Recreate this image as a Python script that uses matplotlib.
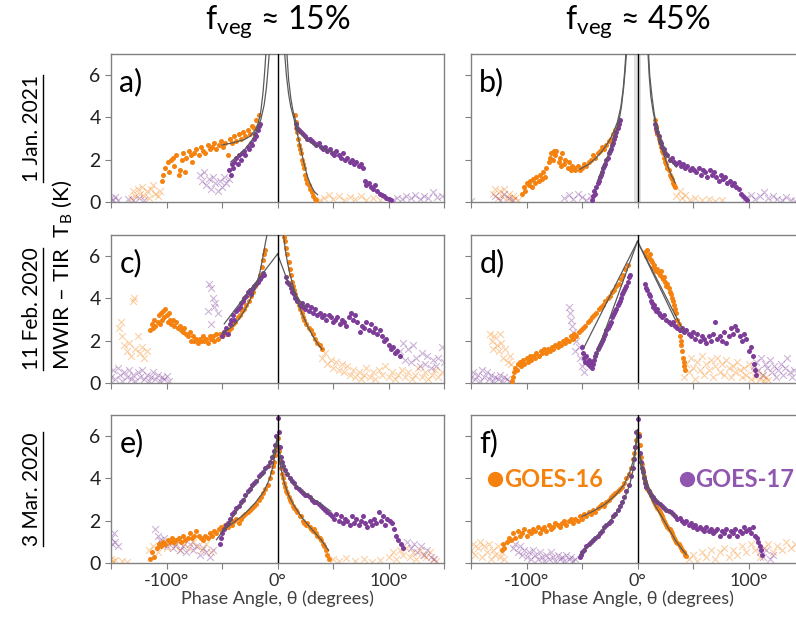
import matplotlib
matplotlib.use("Agg")
import matplotlib.pyplot as plt
from matplotlib.lines import Line2D
from matplotlib.ticker import FixedLocator, FixedFormatter

plt.rcParams['font.family'] = ['Lato', 'DejaVu Sans']
plt.rcParams['mathtext.fontset'] = 'custom'
plt.rcParams['mathtext.rm'] = 'Lato'
plt.rcParams['mathtext.it'] = 'Lato:italic'

ORANGE = '#f5820f'
PURPLE = '#7d3c98'
PURPLE_TXT = '#9157b0'

# ---- data: (phase angle in degrees, MWIR-TIR brightness temperature in K) ----
A_G16_DOT = [(-104,1.0),(-103,1.3),(-101,1.6),(-99,1.9),(-98,1.4),(-96,2.0),(-94,2.1),(-93,1.7),(-91,2.2),(-89,1.3),(-88,1.5),(-86,2.0),(-85,2.3),(-83,1.4),(-82,2.1),(-80,2.4),(-78,2.2),(-77,1.9),(-75,2.3),(-73,2.5),(-71,2.2),(-69,2.6),(-67,2.4),(-65,2.3),(-63,2.7),(-61,2.5),(-59,2.6),(-57,2.8),(-55,2.5),(-53,2.7),(-51,2.9),(-49,2.6),(-47,2.8),(-45,2.2),(-43,3.0),(-41,2.8),(-39,3.1),(-37,2.9),(-35,3.2),(-33,3.0),(-31,3.3),(-29,3.1),(-27,3.4),(-25,3.2),(-23,3.6),(-21,3.5),(-19,3.9),(-17,4.1),
             (16,4.1),(16.5,3.8),(17,3.5),(18,3.3),(18.5,3.0),(19,2.7),(20,2.5),(21,2.3),(22,2.0),(23,1.8),(24,1.6),(25,1.3),(26,1.1),(27,0.9),(28,0.8),(29,0.6),(31,0.45),(32,0.3),(34,0.15),(35,0.1)]
A_G17_DOT = [(-44,1.5),(-42,1.3),(-41,1.8),(-40,1.6),(-39,1.9),(-37,2.1),(-36,1.8),(-35,2.2),(-33,2.0),(-32,2.3),(-30,2.4),(-29,2.2),(-27,2.6),(-26,2.5),(-24,2.8),(-23,2.7),(-21,3.0),(-20,3.2),(-19,3.1),(-18,3.4),(-17,3.6),(-16,3.7),
             (17,3.7),(18,3.5),(19,3.4),(21,3.3),(23,3.2),(25,3.1),(27,3.0),(29,3.0),(31,2.9),(33,2.8),(35,2.7),(37,2.8),(39,2.6),(41,2.5),(43,2.6),(45,2.4),(47,2.5),(49,2.3),(51,2.2),(53,2.4),(55,2.2),(57,2.1),(59,2.3),(61,2.0),(63,2.1),(65,1.9),(67,2.0),(69,1.8),(71,1.9),(73,1.7),(75,1.8),(77,1.6),(79,1.0),(80,0.8),(82,0.9),(84,0.7),(86,0.6),(88,0.8),(90,0.5),(92,0.4),(94,0.35),(96,0.3),(98,0.2),(100,0.15),(102,0.1)]
A_G16_X = [(-132,0.2),(-130,0.5),(-128,0.3),(-126,0.6),(-124,0.4),(-122,0.7),(-120,0.3),(-118,0.5),(-116,0.2),(-114,0.6),(-112,0.8),(-110,0.4),(-108,0.3),(-106,0.5),
           (38,0.1),(42,0.2),(46,0.35),(50,0.15),(55,0.3),(60,0.1),(65,0.25),(70,0.15),(75,0.3),(80,0.1),(86,0.2),(92,0.1)]
A_G17_X = [(-150,0.2),(-148,0.1),(-146,0.25),(-144,0.1),(-135,0.15),(-130,0.1),(-125,0.2),(-120,0.1),(-70,1.3),(-68,1.0),(-66,1.4),(-64,0.8),(-62,1.1),(-60,0.6),(-58,1.2),(-56,0.9),(-54,0.5),(-52,1.0),(-50,0.7),(-48,1.2),(-46,0.9),(-44,1.1),
           (104,0.1),(108,0.2),(112,0.15),(116,0.3),(120,0.2),(124,0.35),(128,0.15),(132,0.3),(136,0.2),(140,0.45),(144,0.25),(148,0.3)]
A_FIT = [[(-50,2.7),(-40,2.8),(-30,2.95),(-25,3.1),(-20,3.4),(-17,3.8),(-15,4.3),(-13,5.2),(-11.5,6.2),(-10.5,7.0)],
         [(-42,1.9),(-30,2.45),(-22,3.0),(-18,3.5),(-15,3.9),(-12,4.6),(-10,5.4),(-8.5,6.3),(-7.5,7.0)],
         [(6.5,7.0),(8,6.0),(10,5.1),(12,4.5),(15,3.9),(18,3.2),(21,2.5),(24,1.8),(27,1.2),(30,0.8),(33,0.5),(36,0.35)],
         [(8.5,7.0),(10,5.8),(12,4.9),(14,4.3),(17,3.7),(20,3.35),(25,3.0),(30,2.8),(40,2.55),(50,2.35)]]

B_G16_DOT = [(-104,0.4),(-102,0.7),(-101,0.5),(-100,0.9),(-98,0.8),(-97,1.0),(-95,0.7),(-94,1.1),(-92,0.9),(-91,1.2),(-89,1.0),(-88,1.3),(-86,1.1),(-85,1.4),(-83,1.2),(-82,1.6),(-80,1.9),(-79,2.1),(-78,2.3),(-76,2.0),(-75,2.4),(-74,2.2),(-73,2.4),(-71,1.9),(-70,2.1),(-69,1.7),(-68,2.3),(-66,1.8),(-65,2.0),(-63,1.6),(-62,1.9),(-60,1.5),(-59,1.7),(-57,1.6),(-56,1.5),(-54,1.7),(-52,1.5),(-50,1.6),(-48,1.8),(-46,1.7),(-44,1.9),(-42,2.0),(-40,2.2),(-38,2.1),(-36,2.3),(-34,2.4),(-32,2.6),(-30,2.5),(-28,2.7),(-26,2.9),(-24,3.0),(-22,3.2),(-20,3.4),(-18,3.6),(-17,3.8),
             (16,3.9),(16.5,3.6),(17,3.4),(18,3.2),(19,3.0),(20,2.8),(21,2.6),(22,2.4),(23,2.3),(24,2.1),(25,1.9),(26,1.8),(27,1.6),(28,1.5),(29,1.3),(30,1.2),(31,1.1),(32,0.9),(33,0.8),(34,0.7)]
B_G17_DOT = [(-41,0.1),(-40,0.3),(-39,0.5),(-38,0.4),(-37,0.7),(-36,0.9),(-35,1.0),(-34,1.2),(-33,1.3),(-32,1.4),(-31,1.6),(-30,1.7),(-29,1.8),(-28,2.0),(-27,2.1),(-26,2.3),(-25,2.4),(-24,2.5),(-23,2.7),(-22,2.8),(-21,3.0),(-20,3.1),(-19,3.3),(-18,3.5),(-17,3.7),(-16,3.9),
             (16,3.7),(17,3.5),(18,3.3),(19,3.1),(20,2.9),(21,2.8),(22,2.6),(24,2.5),(25,2.3),(27,2.2),(29,2.0),(31,2.1),(33,1.9),(35,1.8),(37,1.9),(39,1.7),(41,1.8),(43,1.6),(45,1.7),(47,1.5),(49,1.6),(51,1.5),(53,1.4),(55,1.6),(57,1.3),(59,1.5),(61,1.4),(63,1.2),(65,1.5),(67,1.3),(69,1.4),(71,1.2),(73,1.0),(75,1.3),(77,1.1),(79,1.2),(81,0.9),(83,1.0),(85,0.8),(87,0.9),(89,0.7),(91,0.6),(93,0.4),(95,0.3),(97,0.2),(99,0.1)]
B_G16_X = [(-130,0.4),(-128,0.6),(-126,0.2),(-124,0.5),(-122,0.3),(-120,0.6),(-118,0.2),(-116,0.4),(-114,0.1),(-112,0.3),(-110,0.2),(-108,0.1),
           (35,0.3),(38,0.5),(40,0.2),(43,0.35),(47,0.1),(52,0.2),(58,0.1),(64,0.15),(70,0.05),(76,0.1)]
B_G17_X = [(-150,0.05),(-128,0.3),(-124,0.1),(-120,0.4),(-116,0.2),(-112,0.1),(-66,0.2),(-62,0.35),(-58,0.15),(-54,0.4),(-50,0.25),(-46,0.1),(-42,0.3),
           (98,0.2),(102,0.35),(106,0.15),(110,0.3),(114,0.45),(118,0.2),(122,0.3),(126,0.15),(130,0.1),(134,0.25),(138,0.1),(142,0.05)]
B_FIT = [[(-52,1.55),(-45,1.75),(-38,2.05),(-32,2.4),(-26,2.85),(-22,3.25),(-18,3.8),(-15,4.5),(-13,5.3),(-11.5,6.2),(-10.5,7.0)],
         [(-36,1.0),(-32,1.5),(-28,2.0),(-24,2.55),(-20,3.15),(-17,3.75),(-14.5,4.5),(-12.5,5.4),(-11,6.3),(-10,7.0)],
         [(9.5,7.0),(10.5,6.0),(12,5.0),(14,4.3),(17,3.5),(20,2.8),(24,2.2),(28,1.6),(31,1.2),(34,0.9)],
         [(10,7.0),(11,6.0),(13,5.0),(15,4.2),(18,3.4),(22,2.8),(26,2.3),(30,1.95),(35,1.65)]]

C_G16_DOT = [(-115,2.5),(-113,2.8),(-112,2.6),(-111,3.0),(-110,2.7),(-108,2.9),(-107,3.2),(-106,2.8),(-105,3.3),(-104,3.0),(-103,3.4),(-102,3.1),(-101,3.5),(-100,3.2),(-99,2.9),(-98,3.3),(-97,3.0),(-96,2.8),(-94,3.0),(-93,2.7),(-91,2.9),(-90,2.6),(-88,2.7),(-87,2.5),(-85,2.4),(-84,2.6),(-82,2.3),(-81,2.2),(-79,2.4),(-78,2.0),(-76,2.2),(-75,2.0),(-73,2.1),(-72,1.9),(-70,2.1),(-69,2.0),(-67,2.2),(-66,2.0),(-64,2.1),(-63,1.9),(-61,2.2),(-60,2.1),(-58,2.2),(-57,2.0),(-55,2.3),(-54,2.1),(-52,2.3),(-50,2.2),(-48,2.4),(-46,2.3),(-44,2.5),(-42,2.6),(-40,2.8),(-38,2.9),(-36,3.1),(-34,3.2),(-32,3.4),(-30,3.5),(-28,3.7),(-26,3.9),(-24,4.1),(-22,4.3),(-20,4.6),(-18,4.8),(-16,5.1),(-14,5.5),(-13,5.8),(-12,6.1),(-11,6.3),
             (6,6.9),(7,6.7),(8,6.4),(9,6.1),(10,5.7),(11,5.4),(12,5.1),(13,4.8),(14,4.6),(15,4.4),(16,4.2),(17,4.0),(18,3.9),(19,3.7),(20,3.5),(22,3.3),(23,3.1),(24,3.0),(26,2.8),(28,2.6),(30,2.5),(32,2.3),(34,2.1),(36,1.9),(38,1.8),(40,1.6)]
C_G17_DOT = [(-50,2.2),(-48,2.4),(-46,2.6),(-45,2.3),(-43,2.8),(-42,3.0),(-40,3.2),(-39,3.0),(-37,3.4),(-36,3.5),(-34,3.6),(-33,3.8),(-31,3.9),(-30,4.0),(-28,4.1),(-27,4.3),(-25,4.4),(-24,4.2),(-22,4.5),(-21,4.6),(-19,4.7),(-18,4.8),(-16,4.9),(-15,5.0),(-13,5.2),(-12,5.1),
             (8,5.0),(9,4.8),(10,4.7),(12,4.5),(13,4.3),(15,4.2),(16,4.0),(18,3.9),(20,3.7),(22,3.8),(23,3.6),(25,3.5),(27,3.7),(28,3.4),(30,3.6),(32,3.3),(34,3.5),(36,3.2),(38,3.3),(40,3.1),(42,3.2),(44,3.0),(46,3.2),(48,3.1),(50,2.9),(52,3.0),(54,3.1),(56,2.8),(58,3.0),(60,2.9),(62,2.7),(64,3.1),(66,3.3),(68,3.0),(70,3.2),(72,2.9),(74,2.4),(76,2.7),(78,2.6),(80,2.9),(82,2.5),(84,2.8),(86,2.4),(88,2.6),(90,2.3),(92,2.5),(94,2.2),(96,2.0),(98,2.1),(100,1.8),(102,1.6),(104,1.7),(106,1.4),(108,1.5),(110,1.3)]
C_G16_X = [(-143,2.6),(-141,2.9),(-140,2.2),(-138,1.8),(-136,1.5),(-134,1.9),(-132,1.3),(-130,3.9),(-129,4.0),(-128,1.6),(-126,2.2),(-124,1.4),(-122,1.7),(-120,1.2),(-118,1.5),
           (40,1.2),(43,1.4),(45,0.9),(48,1.1),(50,0.7),(53,1.0),(55,0.6),(58,0.9),(60,0.5),(63,0.8),(65,0.4),(68,0.6),(70,0.3),(73,0.5),(75,0.2),(78,0.4),(80,0.7),(83,0.3),(86,0.5),(88,0.2),(91,0.6),(94,0.4),(97,0.8),(100,0.3),(103,0.5),(106,0.2),(109,0.4),(112,0.6),(115,0.3),(118,0.5),(121,0.2),(124,0.4),(127,0.7),(130,0.3),(133,0.5),(136,0.2),(139,0.4),(142,0.6),(145,0.3),(148,0.5)]
C_G17_X = [(-150,0.3),(-148,0.6),(-146,0.2),(-144,0.7),(-142,0.4),(-140,0.1),(-138,0.5),(-136,0.3),(-134,0.6),(-132,0.2),(-130,0.4),(-128,0.1),(-126,0.5),(-124,0.3),(-122,0.6),(-120,0.2),(-118,0.4),(-116,0.1),(-114,0.3),(-112,0.5),(-110,0.2),(-108,0.4),(-106,0.1),(-104,0.3),(-102,0.2),(-100,0.35),(-98,0.1),
           (-62,4.7),(-60,4.5),(-58,4.0),(-57,3.6),(-56,3.8),(-54,3.3),(-60,2.8),(-63,3.4),
           (110,1.5),(113,1.9),(115,1.1),(118,1.6),(120,1.0),(122,1.8),(125,1.2),(128,0.8),(130,1.4),(133,0.9),(135,1.3),(138,0.7),(140,1.1),(143,0.8),(145,1.2),(148,1.7),(150,1.0)]
C_FIT = [[(-50,2.35),(-45,2.5),(-40,2.7),(-35,3.0),(-30,3.4),(-25,3.9),(-20,4.5),(-16,5.2),(-13,6.0),(-11,6.6),(-9.5,7.0)],
         [(-48,2.8),(0,6.1)],
         [(5.5,7.0),(7,6.3),(9,5.7),(11,5.2),(14,4.6),(18,3.9),(22,3.3),(27,2.7),(32,2.2),(37,1.8),(40,1.6)],
         [(0,6.1),(10,4.7),(20,3.9),(25,3.6)]]

D_G16_DOT = [(-113,0.1),(-112,0.3),(-111,0.5),(-110,0.7),(-109,0.6),(-108,0.9),(-106,1.0),(-105,0.8),(-103,1.1),(-102,0.9),(-100,1.2),(-99,1.0),(-97,1.3),(-96,1.1),(-94,1.3),(-92,1.2),(-91,1.4),(-89,1.3),(-87,1.5),(-86,1.4),(-84,1.6),(-82,1.4),(-81,1.6),(-79,1.5),(-77,1.7),(-76,1.6),(-74,1.8),(-72,1.7),(-71,1.9),(-69,1.8),(-67,2.0),(-65,1.9),(-64,2.1),(-62,2.0),(-60,2.2),(-58,2.1),(-57,2.3),(-55,2.2),(-53,2.4),(-51,2.5),(-49,2.6),(-47,2.7),(-45,2.9),(-43,3.0),(-41,3.1),(-39,3.2),(-37,3.3),(-35,3.5),(-33,3.6),(-31,3.7),(-29,3.9),(-27,4.0),(-25,4.1),(-23,4.3),(-21,4.4),(-19,4.6),(-17,4.7),(-15,4.9),(-13,5.1),(-11,5.4),(-9,5.6),
             (7,6.2),(8,6.0),(9,6.3),(10,5.9),(11,6.1),(12,5.8),(13,5.7),(14,5.5),(15,5.6),(16,5.4),(17,5.3),(18,5.4),(19,5.2),(20,5.1),(21,5.3),(22,5.0),(23,4.9),(24,5.0),(25,4.8),(26,4.6),(27,4.7),(28,4.5),(29,4.3),(30,4.2),(31,4.0),(32,3.9),(33,3.7),(34,3.5),(35,3.3),(36,3.0),(37,2.8),(38,2.5),(38.5,2.2),(39,2.0),(39.5,1.8),(40,1.5),(41,1.2),(41.5,1.0),(42,0.8),(43,0.6)]
D_G17_DOT = [(-50,1.7),(-49,1.4),(-48,1.2),(-47,1.0),(-46,1.3),(-45,0.9),(-44,1.1),(-43,0.8),(-42,1.0),(-41,0.7),(-40,0.9),(-39,1.1),(-38,1.3),(-37,1.4),(-36,1.6),(-35,1.7),(-34,1.8),(-33,1.9),(-32,2.0),(-31,2.1),(-30,2.2),(-29,2.3),(-28,2.5),(-27,2.6),(-26,2.7),(-25,2.8),(-24,2.9),(-23,3.1),(-22,3.2),(-21,3.3),(-20,3.4),(-19,3.5),(-18,3.7),(-17,3.8),(-16,3.9),(-15,4.0),(-14,4.2),(-13,4.3),(-12,4.4),(-11,4.5),(-10,4.6),(-9,4.8),(-8,5.0),(-7,5.1),
             (7,4.7),(8,4.5),(9,4.4),(10,4.2),(11,4.1),(12,3.9),(13,3.8),(14,3.6),(15,3.7),(16,3.5),(17,3.4),(18,3.5),(19,3.3),(20,3.2),(22,3.1),(24,3.2),(26,3.0),(28,2.9),(30,2.8),(32,2.9),(34,2.7),(36,2.6),(38,2.5),(40,2.6),(42,2.4),(44,2.5),(46,2.3),(48,2.2),(50,2.4),(52,2.1),(54,2.3),(56,2.0),(58,2.2),(60,2.1),(62,1.9),(64,2.2),(66,2.0),(68,2.3),(70,2.9),(72,2.1),(74,2.2),(76,2.0),(78,2.4),(80,1.9),(82,2.2),(84,2.6),(86,2.3),(88,2.7),(90,2.5),(92,2.2),(94,2.0),(96,2.3),(98,2.1),(100,1.5),(102,1.7),(104,1.3),(105,0.9),(106,0.6),(107,0.4)]
D_G16_X = [(-133,2.3),(-131,2.0),(-129,2.2),(-127,1.8),(-125,1.5),(-123,1.9),(-121,1.2),(-119,1.6),(-117,1.0),(-115,1.3),(-114,0.9),(-130,1.6),(-124,2.3),
           (42,0.3),(44,0.9),(46,0.5),(48,1.2),(50,0.7),(52,0.2),(54,1.0),(56,0.6),(58,1.3),(60,0.4),(62,0.9),(64,0.6),(66,1.1),(68,0.3),(70,0.8),(72,1.2),(74,0.5),(76,0.9),(78,0.4),(80,1.1),(82,0.7),(84,0.3),(86,0.8),(88,0.5),(90,1.0),(92,0.6),(94,0.3),(96,0.7),(98,0.4),(100,0.9),(102,0.2),(104,0.6),(106,0.3),(108,0.5),(110,0.2),(112,0.4),(114,0.1),(116,0.3),(118,0.15)]
D_G17_X = [(-150,0.3),(-148,0.5),(-146,0.2),(-144,0.4),(-142,0.1),(-140,0.6),(-138,0.3),(-136,0.5),(-134,0.2),(-132,0.4),(-130,0.1),(-128,0.3),(-126,0.2),(-124,0.4),(-122,0.1),(-120,0.3),(-118,0.2),(-116,0.1),
           (-62,3.6),(-61,3.3),(-60,3.0),(-59,2.7),(-58,2.4),(-56,1.5),(-55,2.0),(-53,1.7),(-52,1.2),(-50,0.8),(-48,0.5),(-46,1.0),
           (105,0.8),(107,1.0),(109,0.6),(111,1.2),(113,0.4),(115,0.9),(117,0.7),(119,1.1),(121,0.5),(123,0.8),(125,0.3),(127,0.6),(129,0.9),(131,0.4),(133,0.7),(135,1.2),(137,0.5),(139,0.3),(141,0.6)]
D_FIT = [[(-48,1.7),(0,6.7)], [(-38,1.2),(0,6.7)], [(0,6.7),(42,2.4)], [(0,6.7),(34,3.0)]]

E_G16_DOT = [(-115,0.2),(-113,0.5),(-111,0.3),(-109,0.7),(-107,0.9),(-105,0.8),(-103,1.0),(-101,0.9),(-99,1.1),(-97,1.0),(-95,1.2),(-93,1.0),(-91,1.1),(-89,1.2),(-87,1.0),(-85,1.3),(-83,1.1),(-81,1.2),(-79,1.4),(-77,1.2),(-75,1.3),(-73,1.5),(-71,1.3),(-69,1.2),(-67,1.1),(-65,1.3),(-63,1.2),(-61,1.4),(-59,1.3),(-57,1.5),(-55,1.4),(-53,1.6),(-51,1.7),(-49,1.6),(-47,1.8),(-45,1.7),(-43,1.9),(-41,1.8),(-39,2.0),(-37,2.1),(-35,1.9),(-33,2.1),(-31,2.2),(-29,2.3),(-27,2.4),(-25,2.5),(-23,2.6),(-21,2.7),(-19,2.8),(-17,3.0),(-15,3.1),(-13,3.3),(-11,3.5),(-9,3.7),(-7,4.0),(-5,4.3),(-4,4.6),(-3,4.8),(-2,5.1),(-1,5.5),(0,5.9),
             (1,5.3),(2,4.8),(3,4.5),(4,4.2),(5,4.0),(6,3.8),(7,3.6),(8,3.4),(9,3.3),(10,3.1),(11,3.0),(12,2.9),(14,2.7),(15,2.6),(17,2.5),(18,2.4),(20,2.2),(21,2.2),(23,2.0),(24,1.9),(26,1.8),(27,1.9),(29,1.7),(30,1.6),(32,1.5),(33,1.6),(35,1.4),(36,1.3),(38,1.2),(39,1.1),(41,0.9),(42,0.8),(44,0.6),(45,0.4),(46,0.2)]
E_G17_DOT = [(-52,0.9),(-51,1.2),(-50,1.4),(-48,1.6),(-46,1.8),(-45,1.9),(-43,2.1),(-41,2.3),(-39,2.4),(-37,2.6),(-35,2.7),(-33,2.9),(-31,3.0),(-29,3.2),(-27,3.4),(-25,3.5),(-23,3.7),(-21,3.8),(-19,3.9),(-17,4.1),(-15,4.2),(-13,4.3),(-11,4.5),(-9,4.6),(-7,4.8),(-5,5.0),(-3,5.3),(-2,5.6),(-1,6.0),(0,6.85),
             (1,6.2),(2,5.5),(3,5.0),(4,4.8),(5,4.6),(7,4.4),(9,4.2),(11,4.0),(13,3.9),(15,3.8),(17,3.6),(19,3.5),(21,3.4),(23,3.3),(25,3.2),(27,3.2),(29,3.1),(31,3.0),(33,2.9),(35,2.9),(37,2.8),(39,2.7),(41,2.6),(43,2.5),(45,2.4),(47,2.3),(49,2.2),(51,2.1),(53,2.3),(55,2.0),(57,2.2),(59,1.9),(61,2.1),(63,2.0),(65,1.8),(67,2.2),(69,1.9),(71,2.1),(73,1.8),(75,2.0),(77,2.2),(79,1.9),(81,1.7),(83,2.0),(85,1.8),(87,2.1),(89,1.9),(91,2.4),(93,2.0),(95,2.2),(97,1.8),(99,2.1),(101,2.0),(103,1.9),(105,1.6),(107,1.3),(109,1.1),(111,0.9),(113,0.7)]
E_G16_X = [(-150,0.2),(-148,0.1),(-146,0.15),(-140,0.1),(-136,0.05),(-116,0.6),(-112,0.8),(-108,0.5),(-104,0.9),(-100,0.7),(-96,1.0),(-92,0.8),(-88,0.6),(-84,0.9),(-80,0.7),(-76,1.0),(-72,0.8),(-68,0.6),(-64,0.9),(-60,0.5),
           (50,0.2),(55,0.1),(62,0.25),(70,0.1),(78,0.2),(85,0.05),(92,0.15),(100,0.3),(104,0.5),(107,0.2),(110,0.6),(113,0.4),(116,0.7),(119,0.3),(122,0.5),(125,0.2),(128,0.6),(131,0.4),(134,0.3),(137,0.5),(140,0.2),(143,0.1)]
E_G17_X = [(-150,1.2),(-149,0.9),(-147,1.4),(-146,1.0),(-144,0.8),(-110,1.6),(-108,1.3),(-106,1.1),(-104,0.9),(-102,1.2),(-100,0.8),(-97,1.0),(-94,0.7),(-91,0.9),(-88,0.6),(-85,0.8),(-82,0.5),(-79,0.9),(-76,0.6),(-73,0.8),(-70,0.4),(-67,0.7),(-64,0.5),(-61,0.3),(-58,0.6),
           (117,1.0),(120,0.7),(123,0.9),(126,0.5),(129,0.8),(132,0.4),(135,0.6),(138,0.3),(141,0.2)]
E_FIT = [[(-50,1.5),(-40,1.9),(-30,2.3),(-20,2.85),(-12,3.4),(-7,4.0),(-4,4.6),(-2,5.2),(0,6.0)],
         [(-55,1.1),(-45,1.8),(-35,2.6),(-25,3.4),(-15,4.1),(-8,4.6),(-4,5.1),(-2,5.5),(0,6.0)],
         [(0,6.0),(1,5.2),(3,4.5),(6,3.8),(10,3.2),(15,2.7),(20,2.3),(25,1.95),(30,1.65),(35,1.35),(40,1.05),(46,0.6)],
         [(0,6.0),(2,5.2),(5,4.6),(10,4.1),(15,3.75),(20,3.5),(25,3.3),(30,3.1),(40,2.75),(48,2.45)]]

F_G16_DOT = [(-122,0.6),(-121,0.9),(-120,0.7),(-118,1.0),(-116,1.2),(-114,1.1),(-112,1.4),(-110,1.2),(-108,1.5),(-106,1.3),(-104,1.4),(-102,1.6),(-100,1.3),(-98,1.5),(-96,1.4),(-94,1.6),(-92,1.5),(-90,1.7),(-88,1.4),(-86,1.6),(-84,1.7),(-82,1.5),(-80,1.8),(-78,1.6),(-76,1.7),(-74,1.9),(-72,1.8),(-70,1.7),(-68,1.9),(-66,2.0),(-64,1.8),(-62,2.0),(-60,2.1),(-58,1.9),(-56,2.1),(-54,2.0),(-52,2.2),(-50,2.1),(-48,2.3),(-46,2.2),(-44,2.4),(-42,2.3),(-40,2.5),(-38,2.4),(-36,2.6),(-34,2.7),(-32,2.8),(-30,2.7),(-28,2.9),(-26,3.0),(-24,3.1),(-22,3.2),(-20,3.3),(-18,3.4),(-16,3.5),(-14,3.6),(-12,3.8),(-10,4.0),(-8,4.2),(-6,4.5),(-4,4.9),(-3,5.2),(-2,5.5),(-1,5.8),
             (1,6.1),(2,5.6),(3,5.0),(4,4.7),(5,4.4),(6,4.1),(7,3.9),(8,3.7),(9,3.5),(10,3.4),(11,3.3),(12,3.2),(13,3.1),(14,3.0),(15,2.9),(16,2.8),(17,2.7),(18,2.6),(19,2.5),(20,2.4),(21,2.3),(22,2.2),(23,2.1),(24,2.0),(25,1.9),(26,1.8),(27,1.7),(28,1.6),(29,1.6),(30,1.5),(31,1.4),(32,1.3),(33,1.2),(34,1.1),(35,1.0),(36,0.95),(37,0.9),(38,0.8),(39,0.7),(40,0.6),(41,0.55),(42,0.5),(43,0.4),(44,0.35)]
F_G17_DOT = [(-52,0.3),(-51,0.4),(-50,0.5),(-48,0.6),(-46,0.8),(-44,0.9),(-42,1.0),(-40,1.1),(-38,1.2),(-36,1.3),(-34,1.4),(-32,1.5),(-30,1.7),(-28,1.8),(-26,1.9),(-24,2.0),(-22,2.2),(-20,2.3),(-18,2.5),(-16,2.7),(-14,2.9),(-12,3.1),(-10,3.4),(-8,3.7),(-6,4.1),(-4,4.5),(-3,4.9),(-2,5.5),(-1,6.2),(0,6.8),
             (1,6.0),(2,5.2),(3,4.8),(4,4.5),(5,4.3),(6,4.0),(7,3.8),(8,3.6),(10,3.4),(12,3.2),(14,3.1),(16,3.0),(18,2.9),(20,2.8),(22,2.7),(24,2.6),(26,2.5),(28,2.45),(30,2.4),(32,2.3),(34,2.2),(36,2.1),(38,2.15),(40,2.0),(42,1.9),(44,2.0),(46,1.8),(48,1.9),(50,1.7),(52,1.8),(54,1.6),(56,1.7),(58,1.6),(60,1.5),(62,1.7),(64,1.5),(66,1.6),(68,1.4),(70,1.5),(72,1.6),(74,1.3),(76,1.5),(78,1.4),(80,1.6),(82,1.3),(84,1.5),(86,1.4),(88,1.6),(90,1.3),(92,1.5),(94,1.4),(96,1.7),(98,1.5),(100,1.6),(102,1.4),(104,1.7),(106,1.3),(108,1.2),(109,1.0),(110,0.8),(111,0.6),(112,0.4)]
F_G16_X = [(-150,0.6),(-148,0.9),(-146,0.4),(-144,0.7),(-142,1.0),(-140,0.3),(-138,0.8),(-136,0.5),(-134,0.9),(-132,0.2),(-130,0.6),(-128,0.4),(-126,0.8),(-124,0.3),(-122,0.5),(-120,0.2),
           (46,0.2),(50,0.4),(54,0.1),(58,0.5),(62,0.3),(66,0.6),(70,0.2),(74,0.5),(78,0.7),(82,0.3),(86,0.6),(90,0.4),(94,0.8),(98,0.5),(102,0.9),(106,0.6),(110,0.3),(114,0.7),(118,0.9),(122,0.5),(126,0.8),(130,0.6),(134,1.0),(138,0.7),(142,0.9),(146,0.6),(150,0.8)]
F_G17_X = [(-112,0.7),(-110,0.9),(-108,0.5),(-106,0.8),(-104,0.4),(-102,0.6),(-100,0.3),(-98,0.5),(-96,0.2),(-94,0.6),(-92,0.4),(-90,0.2),(-88,0.5),(-86,0.3),(-84,0.1),(-82,0.4),(-80,0.2),(-78,0.5),(-76,0.3),(-74,0.1),(-72,0.4),(-70,0.2),(-68,0.3),(-66,0.1),(-64,0.4),(-62,0.2),(-60,0.3),(-58,0.1),(-56,0.2),
           (110,0.5),(113,0.3),(116,0.6),(119,0.2),(122,0.4)]
F_FIT = [[(-50,2.2),(-40,2.45),(-30,2.75),(-20,3.2),(-12,3.7),(-7,4.3),(-4,4.8),(-2,5.4),(0,6.3)],
         [(-52,0.35),(-40,1.05),(-30,1.65),(-20,2.3),(-12,3.0),(-7,3.7),(-4,4.4),(-2,5.2),(0,6.3)],
         [(0,6.3),(1,5.5),(3,4.6),(6,3.9),(10,3.3),(15,2.8),(20,2.35),(25,1.9),(30,1.45),(35,1.0),(40,0.65),(44,0.4)],
         [(0,6.3),(2,5.2),(5,4.4),(10,3.6),(15,3.1),(20,2.8),(25,2.55),(30,2.35),(35,2.2)]]

PANELS = ['a)', 'b)', 'c)', 'd)', 'e)', 'f)']
TITLES = [r'f$_{\mathrm{veg}}$ ≈ 15%', r'f$_{\mathrm{veg}}$ ≈ 45%']
ROW_LABELS = ['1 Jan. 2021', '11 Feb. 2020', '3 Mar. 2020']
LEGEND_NAMES = ['GOES-16', 'GOES-17']
X_TICKS = [-150, -100, -50, 0, 50, 100, 150]
X_LABELS = ['', '-100°', '', '0°', '', '100°', '']
Y_TICKS = [0, 2, 4, 6]

panel_data = [
    (A_G16_DOT, A_G17_DOT, A_G16_X, A_G17_X, A_FIT),
    (B_G16_DOT, B_G17_DOT, B_G16_X, B_G17_X, B_FIT),
    (C_G16_DOT, C_G17_DOT, C_G16_X, C_G17_X, C_FIT),
    (D_G16_DOT, D_G17_DOT, D_G16_X, D_G17_X, D_FIT),
    (E_G16_DOT, E_G17_DOT, E_G16_X, E_G17_X, E_FIT),
    (F_G16_DOT, F_G17_DOT, F_G16_X, F_G17_X, F_FIT),
]

W, H = 796, 619
fig = plt.figure(figsize=(W / 100, H / 100), dpi=100)

col_left = [111, 471]
col_w = 333
row_top = [54, 235, 415]
row_h = 148

def xy(pts):
    return [p[0] for p in pts], [p[1] for p in pts]

for i, (g16, g17, g16x, g17x, fits) in enumerate(panel_data):
    r, c = divmod(i, 2)
    ax = fig.add_axes([col_left[c] / W, 1 - (row_top[r] + row_h) / H, col_w / W, row_h / H])
    ax.set_xlim(-150, 150)
    ax.set_ylim(0, 7)

    x, y = xy(g16x)
    ax.scatter(x, y, marker='x', s=24, linewidths=0.8, color=ORANGE, alpha=0.38, zorder=2)
    x, y = xy(g17x)
    ax.scatter(x, y, marker='x', s=24, linewidths=0.8, color=PURPLE, alpha=0.38, zorder=2)
    x, y = xy(g16)
    ax.scatter(x, y, s=13, color=ORANGE, linewidths=0, zorder=3)
    x, y = xy(g17)
    ax.scatter(x, y, s=13, color=PURPLE, linewidths=0, zorder=3)
    for f in fits:
        x, y = xy(f)
        ax.plot(x, y, color='#5a5a5a', lw=0.9, zorder=4)

    if i == 1:
        ax.axvspan(-3, 3, color='#d0d0d0', alpha=0.6, lw=0, zorder=1)
    ax.axvline(0, color='black', lw=1.0, zorder=5)

    for s in ax.spines.values():
        s.set_color('#808080')
        s.set_linewidth(1.0)
    ax.tick_params(colors='#808080', length=4, width=0.8, labelcolor='#202020')
    ax.xaxis.set_major_locator(FixedLocator(X_TICKS))
    ax.yaxis.set_major_locator(FixedLocator(Y_TICKS))
    if r == 2:
        ax.xaxis.set_major_formatter(FixedFormatter(X_LABELS))
        ax.tick_params(axis='x', labelsize=13, labelcolor='#303030')
        ax.set_xlabel('Phase Angle, θ (degrees)', fontsize=13, color='#404040', labelpad=1)
    else:
        ax.set_xticklabels([])
    if c == 0:
        ax.tick_params(axis='y', labelsize=14, labelcolor='#202020')
    else:
        ax.set_yticklabels([])

    ax.text(0.025, 0.91, PANELS[i], transform=ax.transAxes, fontsize=22,
            va='top', ha='left', color='black', zorder=6)

    if i == 5:
        for name, col, tcol, xd, xt in [(LEGEND_NAMES[0], ORANGE, ORANGE, -128, -120.5),
                                         (LEGEND_NAMES[1], PURPLE_TXT, PURPLE_TXT, 44.5, 51.5)]:
            ax.plot([xd], [3.95], 'o', ms=11, color=col, mec='none', zorder=6, clip_on=False)
            ax.text(xt, 3.95, name, color=tcol, fontsize=17, fontweight='bold',
                    va='center', ha='left', zorder=6, clip_on=False)

for c, t in enumerate(TITLES):
    xc = (col_left[c] + 167) / W
    fig.text(xc, 1 - 22 / H, t, fontsize=23, ha='center', va='center')

row_texts = []
for r, lab in enumerate(ROW_LABELS):
    yc = 1 - (row_top[r] + row_h / 2) / H
    row_texts.append(fig.text(32 / W, yc, lab, rotation=90, fontsize=15,
                              ha='center', va='center'))

fig.text(62 / W, 1 - 275 / H, r'MWIR – TIR  T$_{\mathrm{B}}$ (K)', rotation=90,
         fontsize=16, ha='center', va='center')

# underline the date labels (rotated text, so the line sits on the right)
fig.canvas.draw()
renderer = fig.canvas.get_renderer()
for t in row_texts:
    bb = t.get_window_extent(renderer)
    xl = (bb.x1 + 1) / W
    fig.add_artist(Line2D([xl, xl], [bb.y0 / H, bb.y1 / H], color='black', lw=1.0,
                          transform=fig.transFigure))

fig.savefig('out.png', dpi=100)
